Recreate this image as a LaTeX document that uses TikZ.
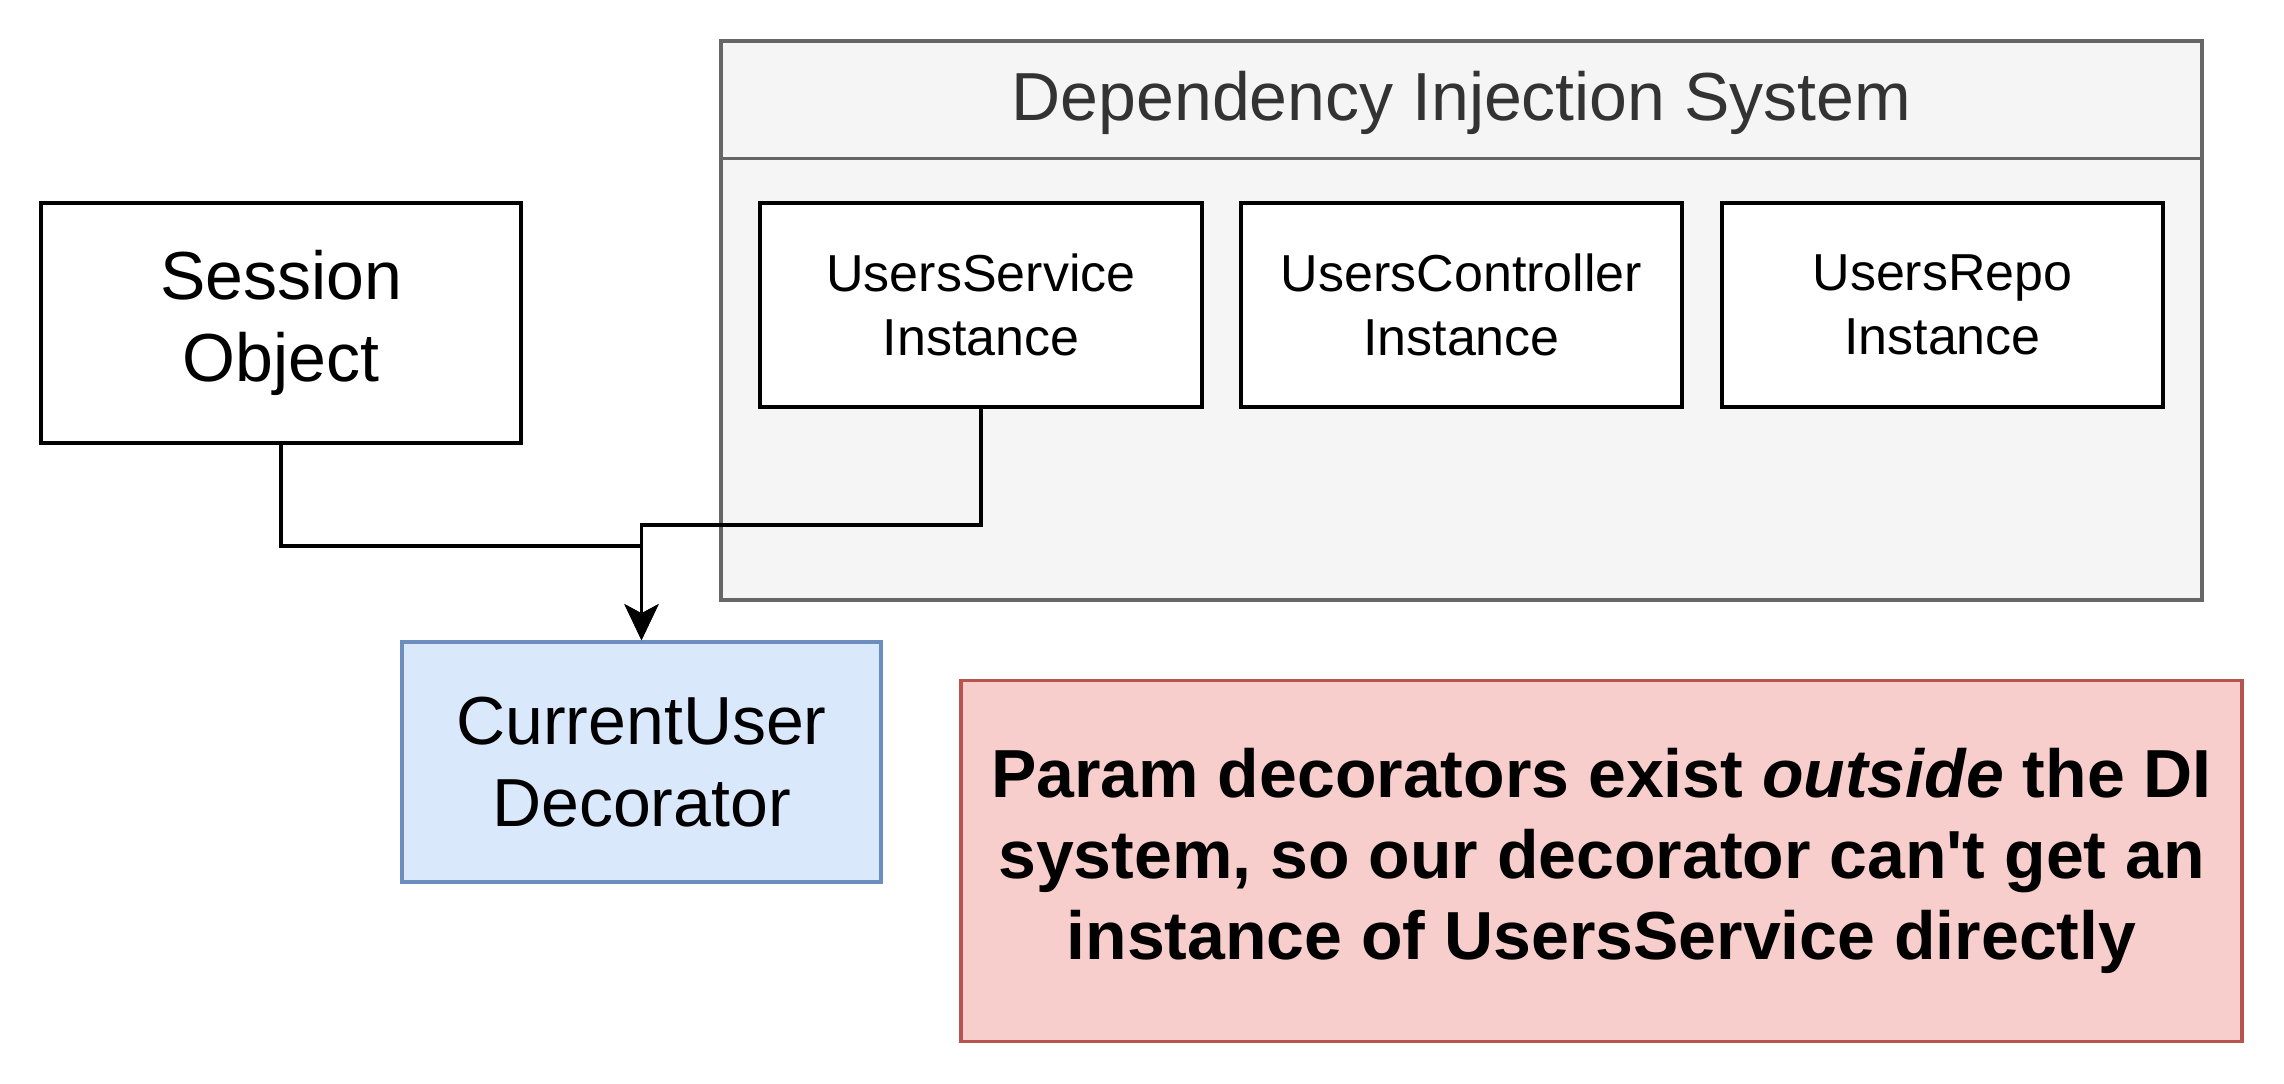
\documentclass[tikz,border=0pt]{standalone}
\usepackage{fontspec}
\setmainfont{Liberation Sans}
\usetikzlibrary{arrows.meta}
\definecolor{contfill}{HTML}{F5F5F5}
\definecolor{contdraw}{HTML}{666666}
\definecolor{titlecol}{HTML}{333333}
\definecolor{bluefill}{HTML}{DAE8FC}
\definecolor{bluedraw}{HTML}{6C8EBF}
\definecolor{redfill}{HTML}{F8CECC}
\definecolor{reddraw}{HTML}{B85450}
\tikzset{
  plainbox/.style={draw=black, line width=3.5pt, fill=white, align=center, inner sep=0pt},
  bigtext/.style={font=\fontsize{68}{82}\selectfont},
  midtext/.style={font=\fontsize{52}{64}\selectfont},
  conn/.style={draw=black, line width=3.5pt, -{Stealth[length=36pt,width=34pt,inset=9pt]}},
}
\begin{document}
\begin{tikzpicture}[x=1pt,y=-1pt]
\useasboundingbox (0,0) rectangle (2284,1084);
% container
\node[draw=contdraw, fill=contfill, line width=3.5pt, minimum width=1481pt, minimum height=559pt, inner sep=0pt] (di) at (1461.5,320.5) {};
\draw[contdraw, line width=3.5pt] (di.north west) ++(0,119) coordinate (hl) -- (hl -| di.east);
\node[text=titlecol, font=\fontsize{68}{80}\selectfont] (title) at (1461.5,103) {Dependency Injection System};
% instances
\node[plainbox, midtext, minimum width=442pt, minimum height=204pt] (us) at (981,305) {UsersService\\Instance};
\node[plainbox, midtext, minimum width=441pt, minimum height=204pt] (uc) at (1461.5,305) {UsersController\\Instance};
\node[plainbox, midtext, minimum width=441pt, minimum height=204pt] (ur) at (1942.5,305) {UsersRepo\\Instance};
% session
\node[plainbox, bigtext, minimum width=480pt, minimum height=240pt] (sess) at (281,323) {Session\\Object};
% decorator
\node[draw=bluedraw, fill=bluefill, line width=3.5pt, bigtext, align=center, minimum width=479pt, minimum height=240pt, inner sep=0pt] (dec) at (641.5,762) {CurrentUser\\Decorator};
% note
\node[draw=reddraw, fill=redfill, line width=3.5pt, align=center, minimum width=1281pt, minimum height=361pt, inner sep=0pt, font=\fontsize{68}{81}\selectfont\bfseries] (note) at (1601.5,861) {Param decorators exist \textit{outside} the DI\\system, so our decorator can\textquotesingle t get an\\instance of UsersService directly};
% connectors
\draw[conn] (sess.south) -- ++(0,101) -| (dec.north);
\draw[conn] (us.south) -- ++(0,116) -| (dec.north);
\end{tikzpicture}
\end{document}
